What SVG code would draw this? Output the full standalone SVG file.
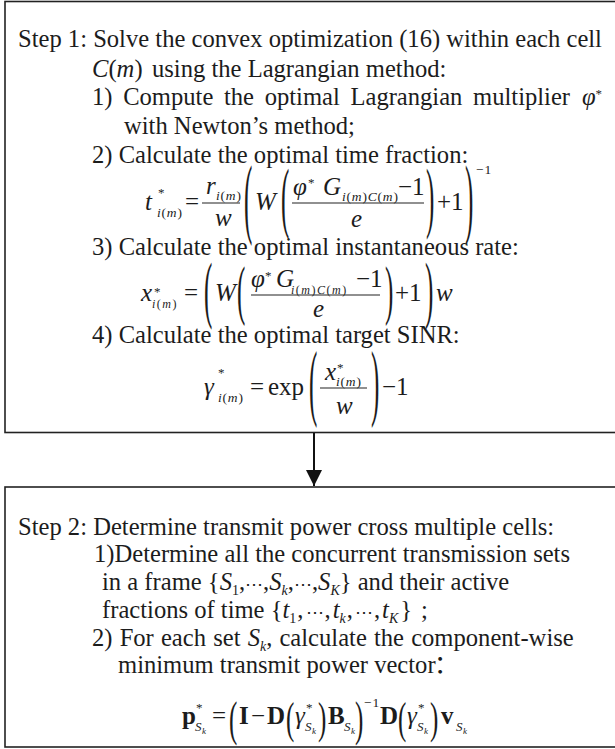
<svg xmlns="http://www.w3.org/2000/svg" width="615" height="749" viewBox="0 0 615 749">
<defs>
<style>
text{font-family:"Liberation Serif","Noto Sans CJK SC",serif;fill:#1c1c1c}
.t{font-size:24.6px}
.m{font-size:25px;font-style:italic}
.r{font-size:25px}
.sr{font-size:13.5px;letter-spacing:0.8px}
.ss{font-size:12px;letter-spacing:1.5px}
.st{font-size:13px}
.i{font-style:italic}
.b{font-weight:bold}
.d{font-family:"DejaVu Serif",serif;font-size:18px}
.box{fill:#fff;stroke:#222;stroke-width:1.6}
.bar{stroke:#222;stroke-width:1.2}
.cn{stroke:#111;stroke-width:2;fill:none}
</style>
<marker id="ah" markerUnits="userSpaceOnUse" markerWidth="18" markerHeight="18" refX="16" refY="8" orient="auto"><path d="M0,0 L16,8 L0,16 z" fill="#111"/></marker>
</defs>
<rect x="0" y="0" width="615" height="749" fill="#fff"/>

<g id="step1">
<rect class="box" x="5" y="1.5" width="620" height="431"/>
<text class="t" x="18" y="47">Step 1: Solve the convex optimization (16) within each cell</text>
<text class="t" x="92" y="77"><tspan class="i">C</tspan>(<tspan class="i">m</tspan>)<tspan x="152">using the Lagrangian method:</tspan></text>
<text class="t" x="92" y="105" word-spacing="4.5">1) Compute the optimal Lagrangian multiplier <tspan class="i" x="582">φ</tspan><tspan font-size="13" y="98">*</tspan></text>
<text class="t" x="124" y="134">with Newton’s method;</text>
<text class="t" x="92" y="163">2) Calculate the optimal time fraction:</text>

<g id="eq-t">
<text class="m" x="145" y="210">t</text>
<text class="st" x="158" y="197">*</text>
<text class="sr" x="157" y="217"><tspan class="i">i</tspan>(<tspan class="i">m</tspan>)</text>
<text class="r" x="185" y="210">=</text>
<text class="m" x="206" y="194">r</text>
<text class="sr" x="216" y="200"><tspan class="i">i</tspan>(<tspan class="i">m</tspan>)</text>
<line class="bar" x1="202" y1="203" x2="240" y2="203"/>
<text class="m" x="215" y="226">w</text>
<text class="r" transform="translate(244,227.3) scale(1,3.57)">(</text>
<text class="m" x="255" y="210">W</text>
<text class="r" transform="translate(281,223) scale(1,3.15)">(</text>
<text class="m" x="293" y="195">φ</text>
<text class="st" x="308" y="187">*</text>
<text class="m" x="323" y="195">G</text>
<text class="sr" x="342" y="201"><tspan class="i">i</tspan>(<tspan class="i">m</tspan>)<tspan class="i">C</tspan>(<tspan class="i">m</tspan>)</text>
<text class="r" x="398" y="195">−1</text>
<line class="bar" x1="292" y1="203" x2="424" y2="203"/>
<text class="m" x="351" y="227">e</text>
<text class="r" transform="translate(426,223) scale(1,3.15)">)</text>
<text class="r" x="437" y="210">+1</text>
<text class="r" transform="translate(465,227.3) scale(1,3.57)">)</text>
<text class="sr" x="476" y="174">−1</text>
</g>

<text class="t" x="92" y="255">3) Calculate the optimal instantaneous rate:</text>

<g id="eq-x">
<text class="m" x="141" y="301">x</text>
<text class="st" x="154" y="296">*</text>
<text class="ss" x="152" y="308"><tspan class="i">i</tspan>(<tspan class="i">m</tspan>)</text>
<text class="r" x="184" y="301">=</text>
<text class="r" transform="translate(204,313.7) scale(1,3.0)">(</text>
<text class="m" x="215" y="301">W</text>
<text class="r" transform="translate(237,311.6) scale(1,2.58)">(</text>
<text class="m" x="251" y="287">φ</text>
<text class="st" x="265" y="280">*</text>
<text class="m" x="276" y="287">G</text>
<text class="ss" x="291" y="294"><tspan class="i">i</tspan>(<tspan class="i">m</tspan>)<tspan class="i">C</tspan>(<tspan class="i">m</tspan>)</text>
<text class="r" x="356" y="287">−1</text>
<line class="bar" x1="251" y1="295" x2="380" y2="295"/>
<text class="m" x="313" y="317">e</text>
<text class="r" transform="translate(385,311.6) scale(1,2.58)">)</text>
<text class="r" x="395" y="301">+1</text>
<text class="r" transform="translate(425,313.7) scale(1,3.0)">)</text>
<text class="m" x="436" y="301">w</text>
</g>

<text class="t" x="92" y="343">4) Calculate the optimal target SINR:</text>

<g id="eq-gamma">
<text class="m" x="204" y="395">γ</text>
<text class="st" x="218" y="377">*</text>
<text class="sr" x="218" y="402"><tspan class="i">i</tspan>(<tspan class="i">m</tspan>)</text>
<text class="r" x="250" y="395">=</text>
<text class="r" x="268" y="395">exp</text>
<text class="r" transform="translate(309,410.1) scale(1,3.38)">(</text>
<text class="m" x="325" y="380">x</text>
<text class="st" x="337" y="372">*</text>
<text class="sr" x="336" y="386"><tspan class="i">i</tspan>(<tspan class="i">m</tspan>)</text>
<line class="bar" x1="320" y1="388" x2="367" y2="388"/>
<text class="m" x="336" y="414">w</text>
<text class="r" transform="translate(371,410.1) scale(1,3.38)">)</text>
<text class="r" x="382" y="395">−1</text>
</g>
</g>

<g id="step2">
<rect class="box" x="5" y="487" width="620" height="260"/>
<text class="t" x="18" y="535">Step 2: Determine transmit power cross multiple cells:</text>
<text class="t" x="94" y="562">1)Determine all the concurrent transmission sets</text>
<text class="t" x="102" y="590">in a frame <tspan>{</tspan><tspan class="i">S</tspan><tspan font-size="14" y="595">1</tspan><tspan y="590">,</tspan><tspan class="d">⋯</tspan><tspan>,</tspan><tspan class="i">S</tspan><tspan class="i" font-size="14" y="595">k</tspan><tspan y="590">,</tspan><tspan class="d">⋯</tspan><tspan>,</tspan><tspan class="i">S</tspan><tspan class="i" font-size="14" y="595">K</tspan><tspan y="590">} and their active</tspan></text>
<text class="t" x="102" y="618">fractions of time <tspan>{</tspan><tspan class="i">t</tspan><tspan font-size="14" y="623">1</tspan><tspan y="618" dx="1">,</tspan><tspan class="d" dx="2">⋯</tspan><tspan dx="1">,</tspan><tspan class="i" dx="2">t</tspan><tspan class="i" font-size="14" y="623">k</tspan><tspan y="618" dx="1">,</tspan><tspan class="d" dx="2">⋯</tspan><tspan dx="1">,</tspan><tspan class="i" dx="2">t</tspan><tspan class="i" font-size="14" y="623">K</tspan><tspan y="618" dx="2">}</tspan><tspan dx="9">;</tspan></text>
<text class="t" x="92" y="646" word-spacing="1">2) For each set <tspan class="i">S</tspan><tspan class="i" font-size="14" y="651">k</tspan><tspan y="646">, calculate the component-wise</tspan></text>
<text class="t" x="118" y="673">minimum transmit power vector<tspan dx="-1.5">：</tspan></text>

<g id="eq-p">
<text class="r b" x="182" y="724">p</text>
<text class="st" x="196" y="712">*</text>
<text class="st i" x="195" y="731">S</text><text class="i" font-size="9" x="202" y="734">k</text>
<text class="r" x="212" y="724">=</text>
<text class="r" transform="translate(229,734.5) scale(1,1.95)">(</text>
<text class="r b" x="239" y="724">I</text>
<text class="r" x="251" y="724">−</text>
<text class="r b" x="267" y="724">D</text>
<text class="r" transform="translate(286,733) scale(1,1.75)">(</text>
<text class="m" x="295" y="724">γ</text>
<text class="st" x="306" y="712">*</text>
<text class="st i" x="305" y="731">S</text><text class="i" font-size="9" x="312" y="734">k</text>
<text class="r" transform="translate(318,733) scale(1,1.75)">)</text>
<text class="r b" x="328" y="724">B</text>
<text class="st i" x="344" y="731">S</text><text class="i" font-size="9" x="351" y="734">k</text>
<text class="r" transform="translate(355,734.5) scale(1,1.95)">)</text>
<text class="sr" x="364" y="707">−1</text>
<text class="r b" x="380" y="724">D</text>
<text class="r" transform="translate(398,733) scale(1,1.75)">(</text>
<text class="m" x="407" y="724">γ</text>
<text class="st" x="418" y="712">*</text>
<text class="st i" x="417" y="731">S</text><text class="i" font-size="9" x="424" y="734">k</text>
<text class="r" transform="translate(430,733) scale(1,1.75)">)</text>
<text class="r b" x="441" y="724">v</text>
<text class="st i" x="456" y="731">S</text><text class="i" font-size="9" x="463" y="734">k</text>
</g>
</g>

<g id="connectors">
<line class="cn" x1="314" y1="433" x2="314" y2="486" marker-end="url(#ah)"/>
</g>
</svg>
